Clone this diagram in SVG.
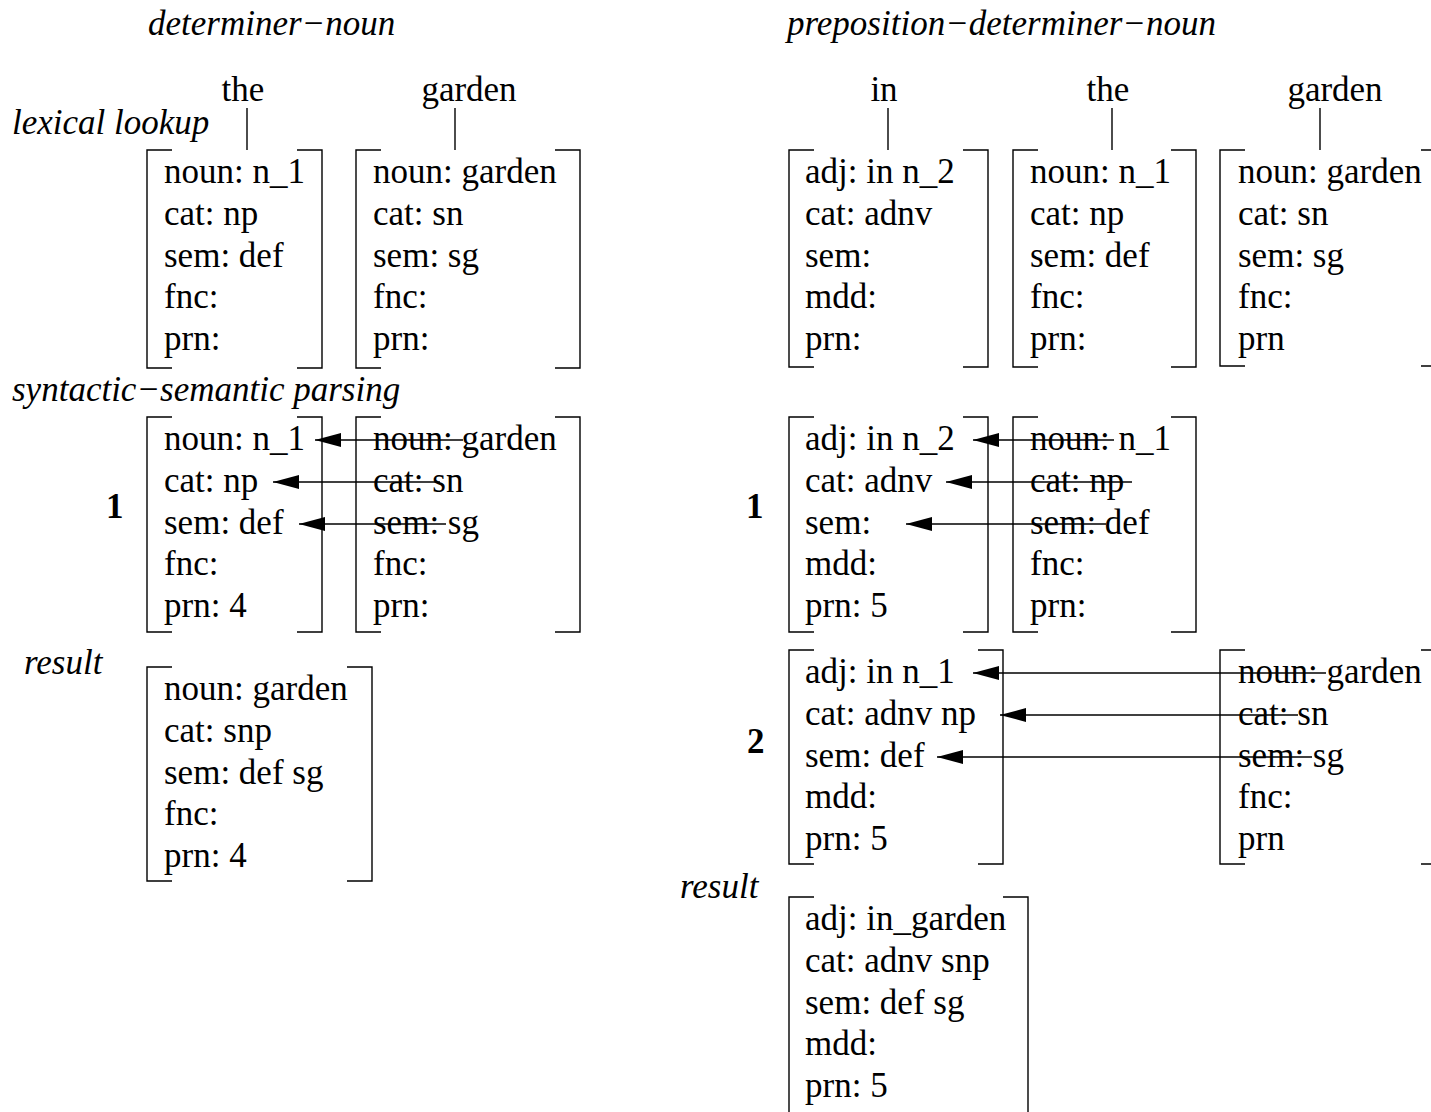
<svg xmlns="http://www.w3.org/2000/svg" width="1431" height="1112" viewBox="0 0 1431 1112">
<style>
text{font-family:"Liberation Serif","Times New Roman",serif;font-size:35px;fill:#000}
.it{font-style:italic}
.b{font-weight:bold}
.w{text-anchor:middle}
.br{fill:none;stroke:#000;stroke-width:1.4}
.cn{stroke:#000;stroke-width:1.4;fill:none}
</style>
<defs>
<marker id="ah" markerUnits="userSpaceOnUse" markerWidth="26" markerHeight="14" viewBox="0 0 26 14" refX="26" refY="7" orient="auto">
<path d="M0,0 L26,7 L0,14 Z" fill="#000"/>
</marker>
</defs>
<rect width="1431" height="1112" fill="#fff"/>

<g id="labels">
<text class="it" x="148" y="35">determiner−noun</text>
<text class="it" x="787" y="35">preposition−determiner−noun</text>
<text class="it" x="12" y="134">lexical lookup</text>
<text class="it" x="12" y="401">syntactic−semantic parsing</text>
<text class="it" x="24" y="674">result</text>
<text class="it" x="680" y="898">result</text>
<text class="b" x="106" y="518">1</text>
<text class="b" x="746" y="518">1</text>
<text class="b" x="747" y="753">2</text>
<text class="w" x="243" y="101">the</text>
<text class="w" x="469" y="101">garden</text>
<text class="w" x="884" y="101">in</text>
<text class="w" x="1108" y="101">the</text>
<text class="w" x="1335" y="101">garden</text>
</g>

<g id="L-lex-the">
<path class="br" d="M172,150 H147 V368 H172 M297,150 H322 V368 H297"/>
<text x="164" y="183">noun: n_1</text><text x="164" y="225">cat: np</text><text x="164" y="267">sem: def</text><text x="164" y="308">fnc:</text><text x="164" y="350">prn:</text>
</g>
<g id="L-lex-garden">
<path class="br" d="M381,150 H356 V368 H381 M555,150 H580 V368 H555"/>
<text x="373" y="183">noun: garden</text><text x="373" y="225">cat: sn</text><text x="373" y="267">sem: sg</text><text x="373" y="308">fnc:</text><text x="373" y="350">prn:</text>
</g>
<g id="L-syn-the">
<path class="br" d="M172,417 H147 V632 H172 M297,417 H322 V632 H297"/>
<text x="164" y="450">noun: n_1</text><text x="164" y="492">cat: np</text><text x="164" y="534">sem: def</text><text x="164" y="575">fnc:</text><text x="164" y="617">prn: 4</text>
</g>
<g id="L-syn-garden">
<path class="br" d="M381,417 H356 V632 H381 M555,417 H580 V632 H555"/>
<text x="373" y="450">noun: garden</text><text x="373" y="492">cat: sn</text><text x="373" y="534">sem: sg</text><text x="373" y="575">fnc:</text><text x="373" y="617">prn:</text>
</g>
<g id="L-result">
<path class="br" d="M172,667 H147 V881 H172 M347,667 H372 V881 H347"/>
<text x="164" y="700">noun: garden</text><text x="164" y="742">cat: snp</text><text x="164" y="784">sem: def sg</text><text x="164" y="825">fnc:</text><text x="164" y="867">prn: 4</text>
</g>

<g id="R-lex-in">
<path class="br" d="M814,150 H789 V367 H814 M963,150 H988 V367 H963"/>
<text x="805" y="183">adj: in n_2</text><text x="805" y="225">cat: adnv</text><text x="805" y="267">sem:</text><text x="805" y="308">mdd:</text><text x="805" y="350">prn:</text>
</g>
<g id="R-lex-the">
<path class="br" d="M1038,150 H1013 V367 H1038 M1171,150 H1196 V367 H1171"/>
<text x="1030" y="183">noun: n_1</text><text x="1030" y="225">cat: np</text><text x="1030" y="267">sem: def</text><text x="1030" y="308">fnc:</text><text x="1030" y="350">prn:</text>
</g>
<g id="R-lex-garden">
<path class="br" d="M1245,150 H1220 V366 H1245 M1421,150 H1446 V366 H1421"/>
<text x="1238" y="183">noun: garden</text><text x="1238" y="225">cat: sn</text><text x="1238" y="267">sem: sg</text><text x="1238" y="308">fnc:</text><text x="1238" y="350">prn</text>
</g>
<g id="R-syn1-in">
<path class="br" d="M814,417 H789 V632 H814 M963,417 H988 V632 H963"/>
<text x="805" y="450">adj: in n_2</text><text x="805" y="492">cat: adnv</text><text x="805" y="534">sem:</text><text x="805" y="575">mdd:</text><text x="805" y="617">prn: 5</text>
</g>
<g id="R-syn1-the">
<path class="br" d="M1038,417 H1013 V632 H1038 M1171,417 H1196 V632 H1171"/>
<text x="1030" y="450">noun: n_1</text><text x="1030" y="492">cat:  np</text><text x="1030" y="534">sem: def</text><text x="1030" y="575">fnc:</text><text x="1030" y="617">prn:</text>
</g>
<g id="R-syn2-in">
<path class="br" d="M814,650 H789 V864 H814 M978,650 H1003 V864 H978"/>
<text x="805" y="683">adj: in n_1</text><text x="805" y="725">cat: adnv np</text><text x="805" y="767">sem: def</text><text x="805" y="808">mdd:</text><text x="805" y="850">prn: 5</text>
</g>
<g id="R-syn2-garden">
<path class="br" d="M1245,650 H1220 V864 H1245 M1421,650 H1446 V864 H1421"/>
<text x="1238" y="683">noun: garden</text><text x="1238" y="725">cat: sn</text><text x="1238" y="767">sem: sg</text><text x="1238" y="808">fnc:</text><text x="1238" y="850">prn</text>
</g>
<g id="R-result">
<path class="br" d="M814,897 H789 V1120 M1003,897 H1028 V1120"/>
<text x="805" y="930">adj: in_garden</text><text x="805" y="972">cat: adnv snp</text><text x="805" y="1014">sem: def sg</text><text x="805" y="1055">mdd:</text><text x="805" y="1097">prn: 5</text>
</g>

<g id="connectors">
<line class="cn" x1="247" y1="108" x2="247" y2="150"/>
<line class="cn" x1="455" y1="108" x2="455" y2="150"/>
<line class="cn" x1="888" y1="108" x2="888" y2="150"/>
<line class="cn" x1="1112" y1="108" x2="1112" y2="150"/>
<line class="cn" x1="1320" y1="108" x2="1320" y2="150"/>

<line class="cn" x1="463" y1="440" x2="315" y2="440" marker-end="url(#ah)"/>
<line class="cn" x1="440" y1="482" x2="273" y2="482" marker-end="url(#ah)"/>
<line class="cn" x1="446" y1="524" x2="299" y2="524" marker-end="url(#ah)"/>

<line class="cn" x1="1114" y1="440" x2="973" y2="440" marker-end="url(#ah)"/>
<line class="cn" x1="1132" y1="482" x2="946" y2="482" marker-end="url(#ah)"/>
<line class="cn" x1="1106" y1="524" x2="906" y2="524" marker-end="url(#ah)"/>

<line class="cn" x1="1326" y1="673" x2="973" y2="673" marker-end="url(#ah)"/>
<line class="cn" x1="1298" y1="715" x2="1000" y2="715" marker-end="url(#ah)"/>
<line class="cn" x1="1312" y1="757" x2="937" y2="757" marker-end="url(#ah)"/>
</g>
</svg>
